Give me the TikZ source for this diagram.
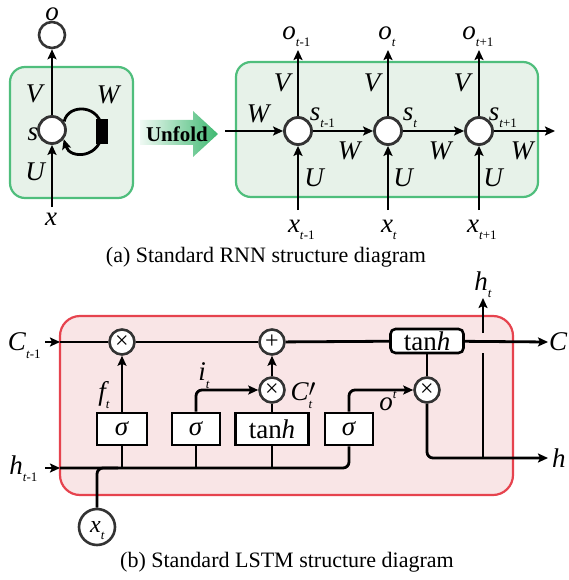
\documentclass[tikz,border=0pt]{standalone}
\usepackage{fontspec}
\setmainfont{Liberation Serif}
\usetikzlibrary{arrows.meta,calc}
\definecolor{gfill}{HTML}{E7F2E9}
\definecolor{gline}{HTML}{4FBE7C}
\definecolor{rfill}{HTML}{F9E5E6}
\definecolor{rline}{HTML}{E6434E}
\definecolor{ugreen}{HTML}{3DB870}
\definecolor{cdark}{HTML}{333333}
\newcommand\mylbl[2]{\textit{#1}\rlap{\smash{\raisebox{-0.28em}{\fontsize{13}{13}\selectfont #2}}}}
\newcommand\mysup[2]{\textit{#1}\rlap{\smash{\raisebox{0.45em}{\fontsize{13}{13}\selectfont #2}}}}
\begin{document}
\begin{tikzpicture}[x=1pt,y=-1pt,
  lab/.style={font=\fontsize{27}{27}\selectfont\itshape, inner sep=0pt},
  captext/.style={font=\fontsize{22}{22}\selectfont, inner sep=0pt},
  cir/.style={circle, draw=cdark, line width=2.8pt, fill=white, minimum size=27pt, inner sep=0pt},
  opc/.style={circle, draw=cdark, line width=2.6pt, fill=white, minimum size=25pt, inner sep=0pt, font=\fontsize{24}{24}\selectfont},
  gate/.style={draw, line width=2.6pt, fill=white, minimum height=32pt, inner sep=0pt, font=\fontsize{27}{27}\selectfont},
  ln/.style={line width=2.8pt},
  arr/.style={line width=2.8pt, -{Stealth[length=10pt,width=9pt,inset=2pt]}},
]
\useasboundingbox (0,0) rectangle (569,580);

% ---------- (a) folded RNN ----------
\draw[gline, fill=gfill, line width=2.2pt, rounded corners=15pt] (10,67) rectangle (133,198);
\node[opc, minimum size=26pt] (o) at (52,35) {};
\node[cir] (s) at (52,130) {};
\coordinate (xin) at (52,207);
\draw[arr] (s) -- (o);
\draw[arr] (xin) -- (s);
\draw[arr] (s.35) .. controls (68,103) and (102,104) .. (102,131) .. controls (102,158) and (70,160) .. (s.-38);
\node[fill=black, minimum width=12pt, minimum height=25pt, inner sep=0pt] (wb) at (102,132) {};
\node[lab] (lo) at (52,14) {o};
\node[lab] (lx) at (51,219) {x};
\node[lab] (lV) at (34,94) {V};
\node[lab] (lU) at (35,172) {U};
\node[lab] (ls) at (33,134) {s};
\node[lab] (lW) at (108,95) {W};

% ---------- Unfold arrow ----------
\shade[left color=ugreen!8, right color=ugreen] (140,120) -- (193,120) -- (193,111) -- (218,134) -- (193,157) -- (193,145) -- (140,145) -- cycle;
\node[font=\fontsize{21}{21}\selectfont\bfseries, inner sep=0pt] (unf) at (177,134) {Unfold};

% ---------- (a) unfolded RNN ----------
\draw[gline, fill=gfill, line width=2.2pt, rounded corners=15pt] (236,62) rectangle (538,197);
\node[cir] (s1) at (298,131) {};
\node[cir] (s2) at (388,131) {};
\node[cir] (s3) at (479,131) {};
\coordinate (win) at (225,131);
\coordinate (wout) at (555,131);
\coordinate (o1) at (298,50);
\coordinate (o2) at (388,50);
\coordinate (o3) at (479,50);
\coordinate (x1) at (298,210);
\coordinate (x2) at (388,210);
\coordinate (x3) at (479,210);
\draw[arr] (win) -- (s1);
\draw[arr] (s1) -- (s2);
\draw[arr] (s2) -- (s3);
\draw[arr] (s3) -- (wout);
\draw[arr] (s1) -- (o1);
\draw[arr] (s2) -- (o2);
\draw[arr] (s3) -- (o3);
\draw[arr] (x1) -- (s1);
\draw[arr] (x2) -- (s2);
\draw[arr] (x3) -- (s3);
\node[lab] (lo1) at (289,33) {\mylbl{o}{\textit{t}\textup{-1}}};
\node[lab] (lo2) at (385,33) {\mylbl{o}{\textit{t}}};
\node[lab] (lo3) at (469,33) {\mylbl{o}{\textit{t}\textup{+1}}};
\node[lab] (lx1) at (294,226) {\mylbl{x}{\textit{t}\textup{-1}}};
\node[lab] (lx2) at (387,226) {\mylbl{x}{\textit{t}}};
\node[lab] (lx3) at (473,226) {\mylbl{x}{\textit{t}\textup{+1}}};
\node[lab] (ls1) at (315,114) {\mylbl{s}{\textit{t}\textup{-1}}};
\node[lab] (ls2) at (408,114) {\mylbl{s}{\textit{t}}};
\node[lab] (ls3) at (494,114) {\mylbl{s}{\textit{t}\textup{+1}}};
\node[lab] (lV1) at (282,83) {V};
\node[lab] (lV2) at (372,83) {V};
\node[lab] (lV3) at (462,83) {V};
\node[lab] (lU1) at (314,178) {U};
\node[lab] (lU2) at (403,178) {U};
\node[lab] (lU3) at (493,178) {U};
\node[lab] (lW0) at (258,114) {W};
\node[lab] (lW1) at (349,151) {W};
\node[lab] (lW2) at (440,151) {W};
\node[lab] (lW3) at (522,151) {W};

\node[captext] (capa) at (266,257) {(a) Standard RNN structure diagram};

% ---------- (b) LSTM ----------
\draw[rline, fill=rfill, line width=2.2pt, rounded corners=20pt] (60,316) rectangle (513,495);
\node[opc] (m1) at (122,342) {×};
\node[opc] (pl) at (272,342) {+};
\node[gate, rounded corners=5pt, minimum width=73pt, minimum height=24pt] (th1) at (427,341) {tan\textit{h}};
\node[gate, minimum width=50pt] (g1) at (122,429) {\textit{σ}};
\node[gate, minimum width=48pt] (g2) at (196,429) {\textit{σ}};
\node[gate, minimum width=73pt] (th2) at (272,429) {tan\textit{h}};
\node[gate, minimum width=48pt] (g3) at (349,429) {\textit{σ}};
\node[opc] (m2) at (272,390) {×};
\node[opc] (m3) at (427,390) {×};
\node[opc, minimum size=36pt, font=\fontsize{24}{24}\selectfont\itshape] (xt) at (97,527) {\mylbl{x}{\textit{t}}\hspace*{3pt}};

\coordinate (cin) at (45,342);
\coordinate (cedge) at (60,342);
\coordinate (cout) at (548,342);
\coordinate (hin) at (45,468);
\coordinate (hedge) at (60,468);
\coordinate (hout) at (548,458);
\coordinate (hj) at (483,458);
\coordinate (gapb) at (483,353);
\coordinate (gapt) at (483,333);
\coordinate (htop) at (483,298);
\coordinate (xj) at (118,468);

\draw[arr] (cin) -- (cedge);
\draw[ln] (cedge) -- (m1);
\draw[ln] (m1) -- (pl);
\draw[ln] (pl) -- (th1);
\draw[arr] (th1) -- (cout);
\draw[arr] (g1) -- (m1);
\draw[arr, rounded corners=6pt] (g2.north) |- (m2.west);
\draw[ln] (th2) -- (m2);
\draw[arr] (m2) -- (pl);
\draw[arr, rounded corners=6pt] (g3.north) |- (m3.west);
\draw[ln] (th1) -- (m3);
\draw[arr, rounded corners=6pt] (m3.south) |- (hout);
\draw[arr] (hin) -- (hedge);
\draw[ln, rounded corners=6pt] (hedge) -| (g3.south);
\draw[ln] (g1.south) -- (g1.south |- hedge);
\draw[ln] (g2.south) -- (g2.south |- hedge);
\draw[ln] (th2.south) -- (th2.south |- hedge);
\draw[ln, rounded corners=6pt] (xt.north) |- (xj);
\draw[ln] (hj) -- (gapb);
\draw[arr] (gapt) -- (htop);

\node[lab] (lC0) at (17,342) {\mylbl{C}{\textit{t}\textup{-1}}};
\node[lab] (lh0) at (16,465) {\mylbl{h}{\textit{t}\textup{-1}}};
\node[lab, anchor=west] (lC) at (549,342) {C};
\node[lab, anchor=west] (lh) at (552,458) {h};
\node[lab] (lht) at (481,281) {\mylbl{h}{\textit{t}}};
\node[lab] (lft) at (102,394) {\mylbl{f}{\textit{t}}};
\node[lab] (lit) at (202,372) {\mylbl{i}{\textit{t}}};
\node[lab] (lCt) at (303,392) {\textit{C}\rlap{\smash{\raisebox{-0.28em}{\fontsize{13}{13}\selectfont\textit{t}}}}\raisebox{0.15em}{$\prime$}};
\node[lab] (lot) at (386,404) {\mysup{o}{\textit{t}}};

\node[captext] (capb) at (287,562) {(b) Standard LSTM structure diagram};
\end{tikzpicture}
\end{document}
